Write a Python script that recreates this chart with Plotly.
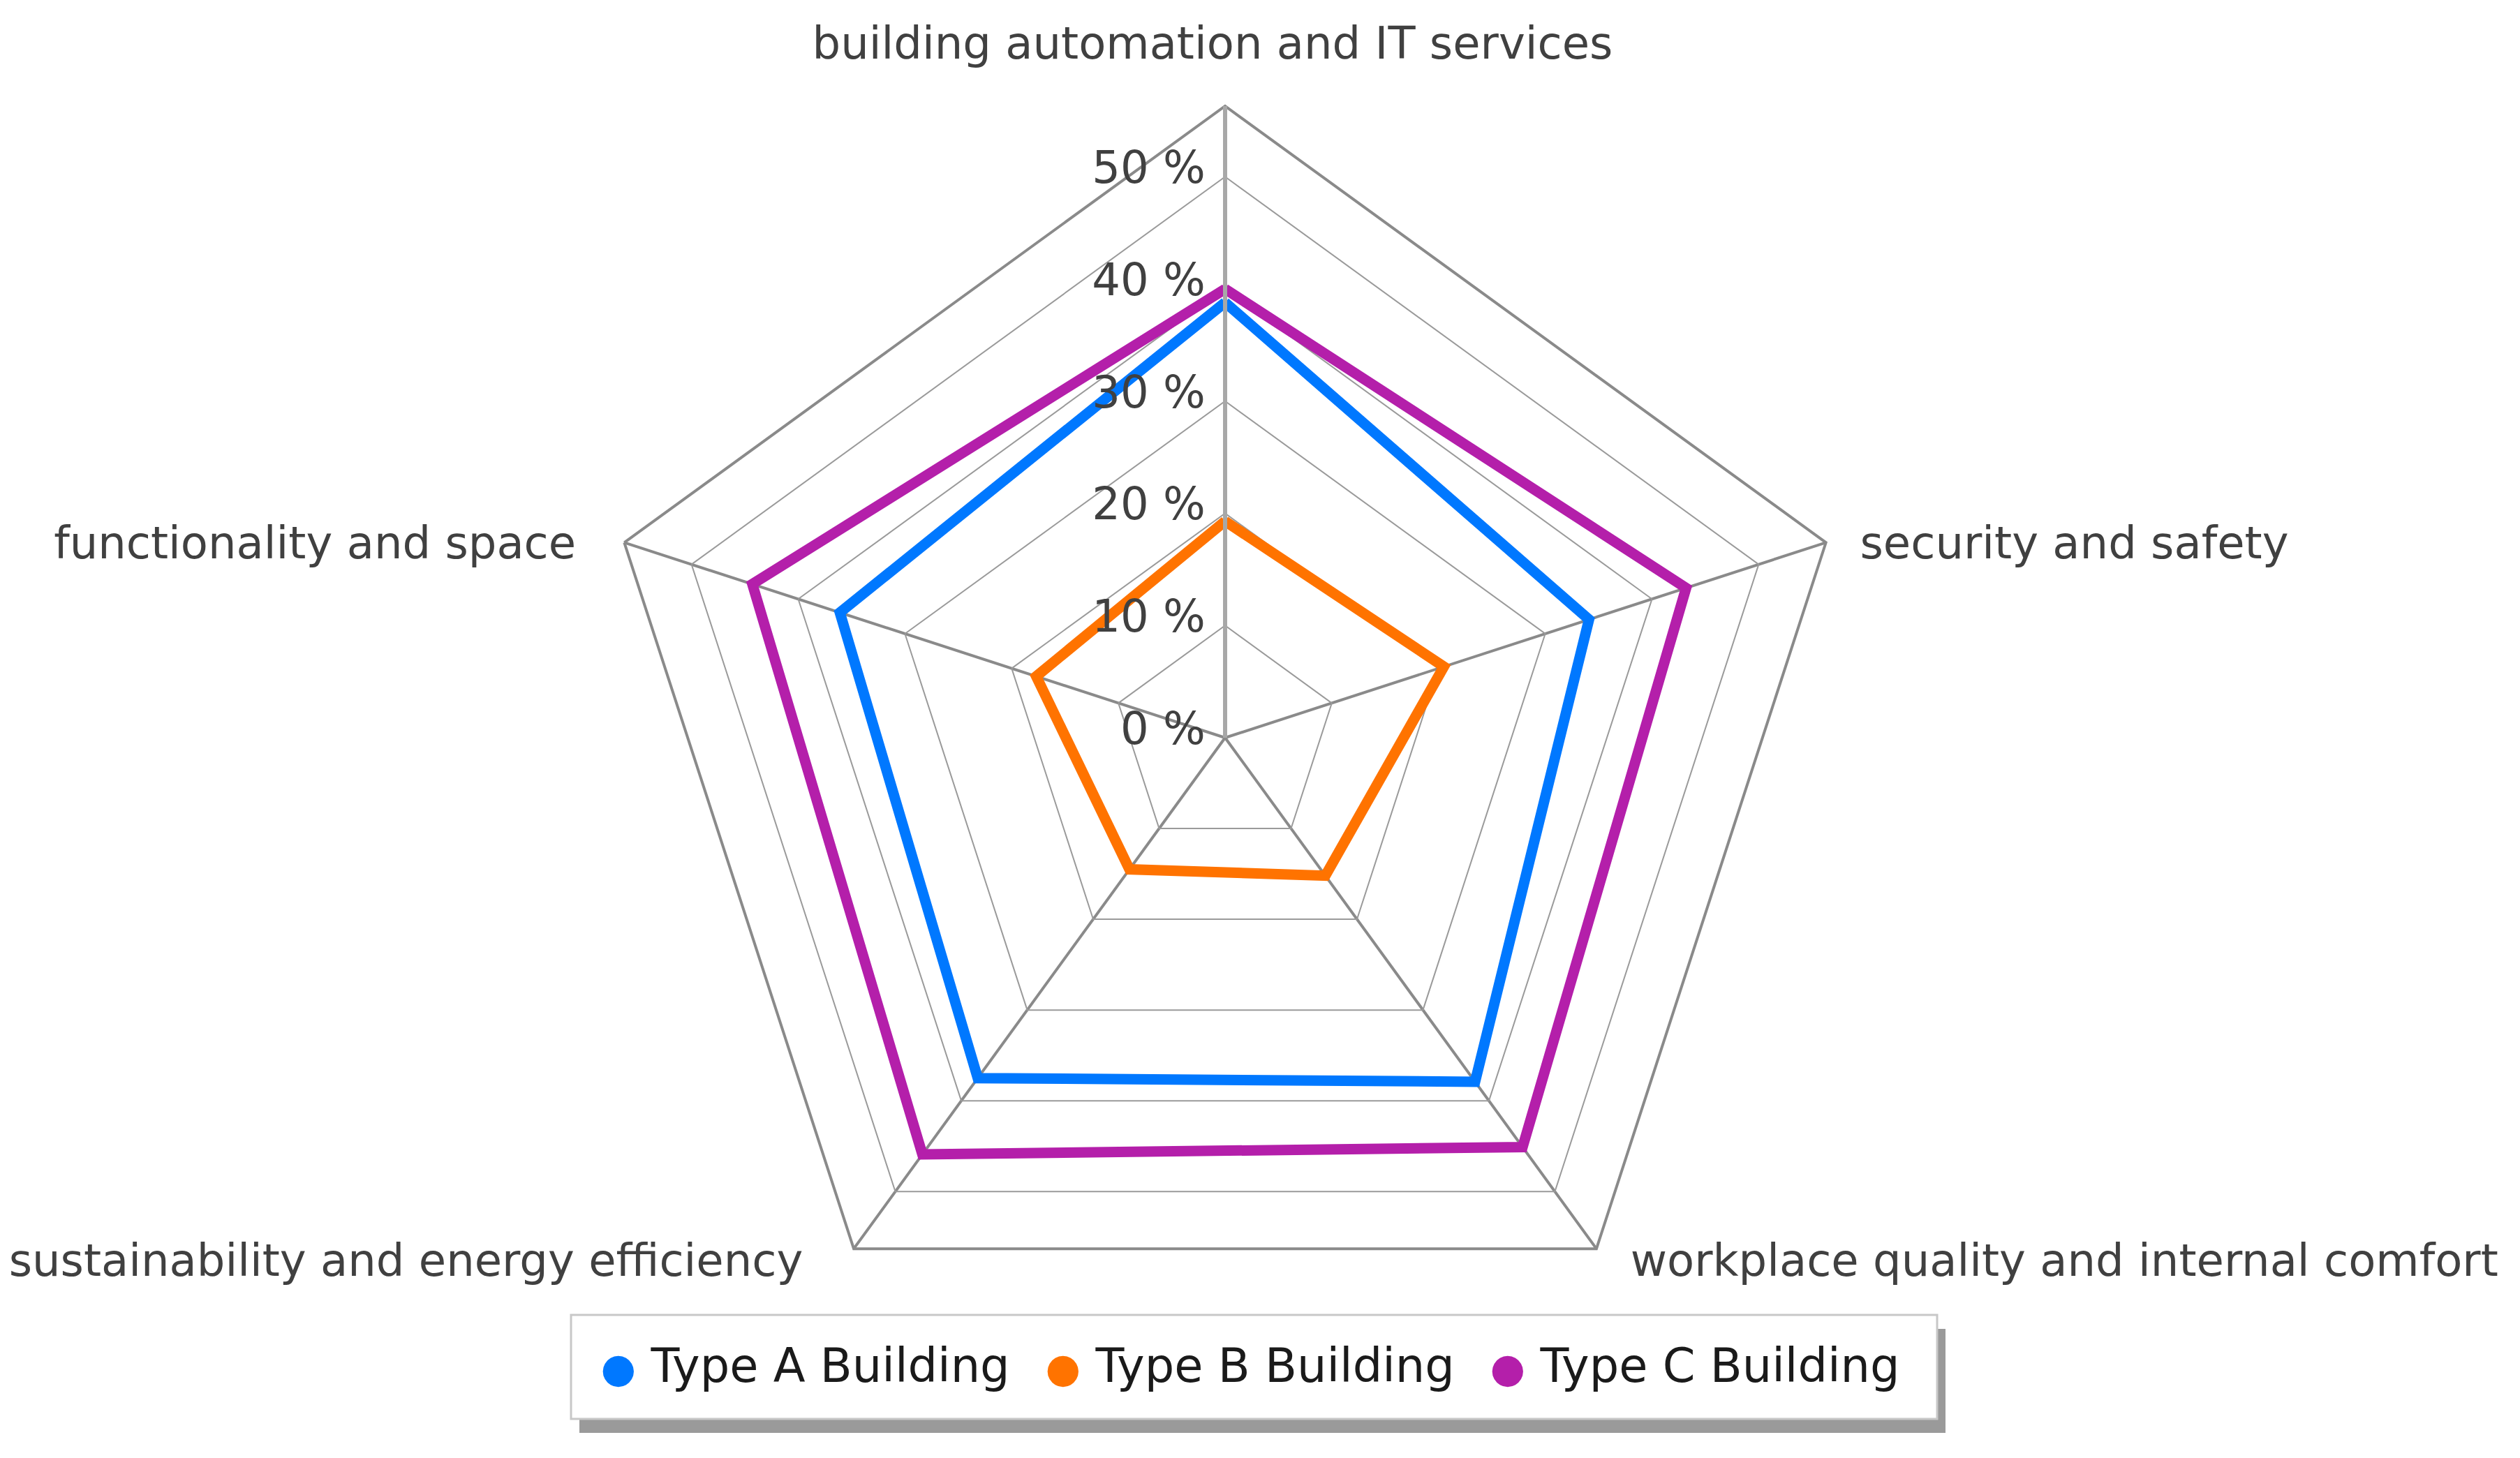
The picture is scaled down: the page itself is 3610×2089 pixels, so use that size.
import plotly.graph_objects as go

categories = [
    "building automation and IT services",
    "security and safety",
    "workplace quality and internal comfort",
    "sustainability and energy efficiency",
    "functionality and space",
]
type_a = [38.8, 34.1, 37.9, 37.5, 36.1]
type_b = [19.3, 20.5, 15.2, 14.5, 17.7]
type_c = [40.0, 43.2, 45.1, 45.9, 44.3]
series_names = ["Type A Building", "Type B Building", "Type C Building"]
series_colors = ["#0078FF", "#FF7300", "#B41FAA"]
radial_ticks = [0, 10, 20, 30, 40, 50]
radial_max = 56.3

W, H = 3610, 2089
cx, cy, R = 1747, 1049, 905
font_family = "DejaVu Sans, Verdana, sans-serif"
label_size = 64
label_color = "#404040"

# category labels are split over overlaid, otherwise invisible polar subplots so
# each group can sit at the same offset from its vertex as in the reference
label_group = ["top", "side", "bottom", "bottom", "side"]


def labels_for(group):
    out = []
    for c, g in zip(categories, label_group):
        if g != group:
            out.append("")
        elif c == "functionality and space":
            out.append(c + "\u00a0")
        else:
            out.append(c)
    return out


def domain(shift_up=0, shift_x=0):
    return dict(x=[(cx - R + shift_x) / W, (cx + R + shift_x) / W],
                y=[(H - cy - R + shift_up) / H, (H - cy + R + shift_up) / H])


def label_axis(group, ticklen):
    return dict(
        rotation=90, direction="clockwise",
        showline=False, showgrid=False,
        tickmode="array", tickvals=categories, ticktext=labels_for(group),
        ticks="outside", ticklen=ticklen, tickcolor="rgba(0,0,0,0)",
        tickfont=dict(size=label_size, color=label_color, family=font_family),
    )


fig = go.Figure()
for name, vals, col in zip(series_names, [type_a, type_b, type_c], series_colors):
    fig.add_trace(go.Scatterpolar(
        r=vals + [vals[0]], theta=categories + [categories[0]],
        mode="lines", line=dict(color=col, width=15),
        name=name, showlegend=False, hoverinfo="r+theta",
    ))
# legend entries: coloured dot drawn as a text glyph so it can be as large as the reference
for name, col in zip(series_names, series_colors):
    fig.add_trace(go.Scatterpolar(
        r=[None], theta=[categories[0]], mode="lines",
        line=dict(color="rgba(0,0,0,0)", width=0),
        name=f"<span style='color:{col};font-size:58px'>●</span> {name}",
        showlegend=True,
    ))
# carrier traces for the label-only polar subplots
for sp in ["polar2", "polar3", "polar4"]:
    fig.add_trace(go.Scatterpolar(
        r=[0] * len(categories), theta=categories, subplot=sp,
        mode="lines", line=dict(color="rgba(0,0,0,0)", width=0),
        showlegend=False, hoverinfo="skip",
    ))

box_x0, box_x1, box_y0, box_y1 = 810, 2767, 1876, 2025
shadow_dx, shadow_dy = 12, 20

fig.update_layout(
    width=W, height=H,
    margin=dict(l=0, r=0, t=0, b=0),
    paper_bgcolor="white",
    font=dict(family=font_family, color=label_color, size=62),
    polar=dict(
        domain=domain(),
        gridshape="linear",
        bgcolor="white",
        angularaxis=dict(
            rotation=90, direction="clockwise",
            showline=True, linecolor="#8a8a8a", linewidth=4,
            showgrid=True, gridcolor="#8a8a8a", gridwidth=4,
            showticklabels=False, ticks="",
        ),
        radialaxis=dict(
            range=[0, radial_max],
            tickvals=radial_ticks,
            angle=90, showticklabels=False,
            showline=True, linecolor="#a8a8a8", linewidth=6,
            showgrid=True, gridcolor="#9a9a9a", gridwidth=2,
            ticks="",
        ),
    ),
    polar2=dict(
        domain=domain(110, -12), gridshape="linear", bgcolor="rgba(0,0,0,0)",
        angularaxis=label_axis("bottom", 90),
        radialaxis=dict(visible=False, range=[0, 1]),
    ),
    polar3=dict(
        domain=domain(-21), gridshape="linear", bgcolor="rgba(0,0,0,0)",
        angularaxis=label_axis("side", 38),
        radialaxis=dict(visible=False, range=[0, 1]),
    ),
    polar4=dict(
        domain=domain(12, -18), gridshape="linear", bgcolor="rgba(0,0,0,0)",
        angularaxis=label_axis("top", 30),
        radialaxis=dict(
            range=[0, radial_max],
            tickvals=radial_ticks,
            ticktext=[f"{v} %" for v in radial_ticks],
            angle=90, tickangle=90, side="counterclockwise",
            showline=False, showgrid=False, ticks="",
            tickfont=dict(size=64, color=label_color, family=font_family),
        ),
    ),
    legend=dict(
        orientation="h",
        x=0.2251, xanchor="left",
        y=(H - (box_y0 + box_y1) / 2 + 4) / H, yanchor="middle",
        bgcolor="rgba(0,0,0,0)",
        borderwidth=0,
        font=dict(size=67, color="#1a1a1a", family=font_family),
        itemwidth=30,
        entrywidth=592, entrywidthmode="pixels",
    ),
    shapes=[
        dict(type="rect", xref="paper", yref="paper",
             x0=(box_x0 + shadow_dx) / W, x1=(box_x1 + shadow_dx) / W,
             y0=(H - box_y1 - shadow_dy) / H, y1=(H - box_y0 - shadow_dy) / H,
             fillcolor="#9a9a9a", line=dict(width=0), layer="below"),
        dict(type="rect", xref="paper", yref="paper",
             x0=box_x0 / W, x1=box_x1 / W,
             y0=(H - box_y1) / H, y1=(H - box_y0) / H,
             fillcolor="white", line=dict(width=3, color="#c8c8c8"), layer="below"),
    ],
)

fig.write_html("out.html")
